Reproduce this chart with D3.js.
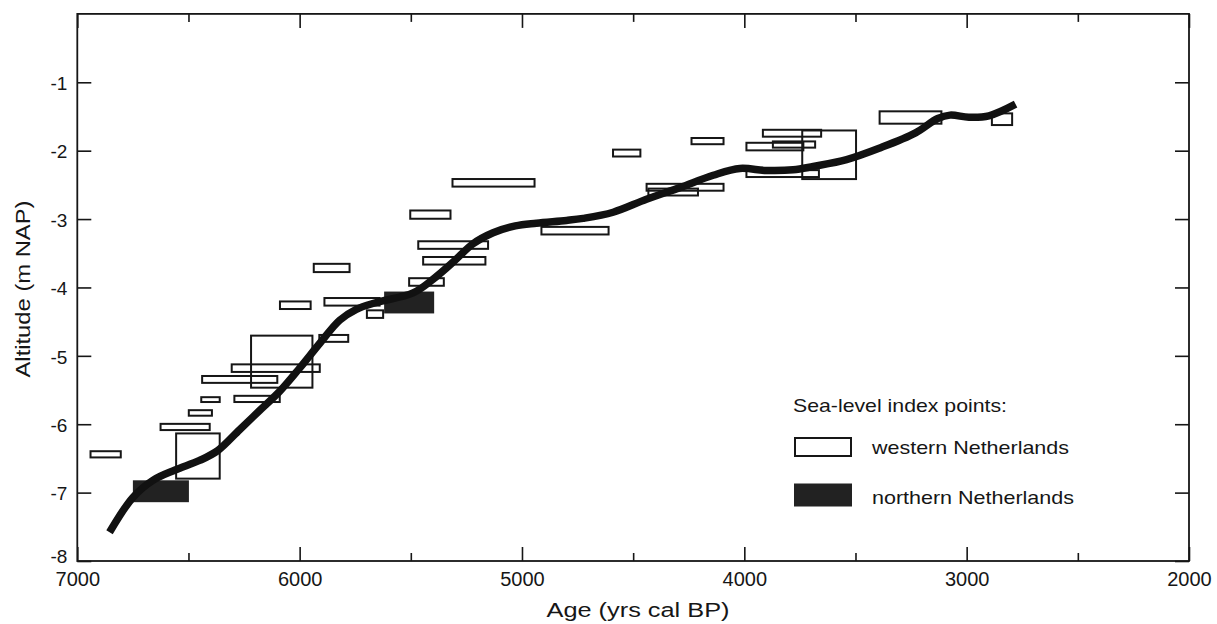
<!DOCTYPE html>
<html>
<head>
<meta charset="utf-8">
<script src="https://cdn.jsdelivr.net/npm/d3@7/dist/d3.min.js"></script>
<style>
  html, body { margin: 0; padding: 0; background: #fff; }
  svg { display: block; font-family: "Liberation Sans", Arial, Helvetica, sans-serif; }
</style>
</head>
<body>
<svg id="chart" width="1217" height="624"></svg>
<script>
// ---- Data ----
// Western Netherlands sea-level index points (age range in yrs cal BP, altitude range in m NAP)
const westAgeOld   = [6945, 6560, 6630, 6503, 6447, 6298, 6443, 6310, 6223, 5916, 6093, 5941, 5893, 5702, 5512, 5449, 5471, 5317, 5507, 4917, 4595, 4444, 4436, 4242, 3995, 3921, 3876, 3995, 3744, 3396, 2891];
const westAgeYoung = [6800, 6355, 6400, 6390, 6355, 6085, 6096, 5905, 5938, 5777, 5946, 5771, 5636, 5620, 5347, 5160, 5148, 4939, 5317, 4606, 4463, 4089, 4204, 4089, 3730, 3650, 3677, 3660, 3493, 3109, 2791];
const westAltTop   = [-6.38, -6.12, -5.98, -5.78, -5.59, -5.57, -5.28, -5.11, -4.69, -4.68, -4.19, -3.64, -4.14, -4.32, -3.85, -3.54, -3.31, -2.40, -2.86, -3.10, -1.97, -2.47, -2.54, -1.80, -1.87, -1.68, -1.85, -2.27, -1.69, -1.41, -1.44];
const westAltBot   = [-6.50, -6.81, -6.10, -5.89, -5.69, -5.69, -5.41, -5.25, -5.48, -4.81, -4.33, -3.79, -4.28, -4.46, -3.99, -3.68, -3.45, -2.54, -3.01, -3.24, -2.10, -2.60, -2.67, -1.92, -2.01, -1.81, -1.97, -2.40, -2.43, -1.62, -1.64];

// Northern Netherlands sea-level index points
const northAgeOld   = [6750, 5620];
const northAgeYoung = [6498, 5395];
const northAltTop   = [-6.82, -4.06];
const northAltBot   = [-7.14, -4.38];

// Sea-level curve
const curveAge = [6855, 6750, 6660, 6560, 6450, 6370, 6270, 6180, 6090, 6000, 5910, 5820, 5745, 5655, 5490, 5400, 5310, 5220, 5130, 5030, 4935, 4800, 4725, 4590, 4440, 4290, 4140, 4020, 3900, 3780, 3690, 3540, 3390, 3230, 3130, 3075, 2990, 2900, 2780];
const curveAlt = [-7.58, -7.07, -6.82, -6.67, -6.53, -6.39, -6.08, -5.80, -5.52, -5.18, -4.82, -4.48, -4.32, -4.22, -4.08, -3.88, -3.63, -3.36, -3.20, -3.10, -3.06, -3.02, -2.99, -2.90, -2.71, -2.54, -2.36, -2.26, -2.29, -2.28, -2.23, -2.13, -1.96, -1.74, -1.53, -1.48, -1.51, -1.49, -1.32];

// Axis ticks
const xMajorTicks = [7000, 6000, 5000, 4000, 3000, 2000];
const xMinorTicks = [6500, 5500, 4500, 3500, 2500];
const yTicks = [-1, -2, -3, -4, -5, -6, -7, -8];

const xTitle = "Age (yrs cal BP)";
const yTitle = "Altitude (m NAP)";
const legendTitle = "Sea-level index points:";
const legendLabels = ["western Netherlands", "northern Netherlands"];

// ---- Layout ----
const svg = d3.select("#chart");
const pL = 77.3, pR = 1189, pT = 13.9, pB = 561;
const ink = "#161616";

const x = d3.scaleLinear().domain([7000, 2000]).range([pL, pR]);
const y = d3.scaleLinear().domain([-8, 0]).range([pB, pT]);

svg.append("rect").attr("width", 1217).attr("height", 624).attr("fill", "#fff");

const west = westAgeOld.map((d, i) => ({a0: d, a1: westAgeYoung[i], t: westAltTop[i], b: westAltBot[i]}));
const north = northAgeOld.map((d, i) => ({a0: d, a1: northAgeYoung[i], t: northAltTop[i], b: northAltBot[i]}));

// Boxes: western (open)
svg.append("g").selectAll("rect").data(west).join("rect")
  .attr("x", d => x(d.a0) + 1)
  .attr("y", d => y(d.t) + 1)
  .attr("width", d => x(d.a1) - x(d.a0) - 2)
  .attr("height", d => y(d.b) - y(d.t) - 2)
  .attr("fill", "none")
  .attr("stroke", ink)
  .attr("stroke-width", 2);

// Boxes: northern (filled)
svg.append("g").selectAll("rect").data(north).join("rect")
  .attr("x", d => x(d.a0))
  .attr("y", d => y(d.t))
  .attr("width", d => x(d.a1) - x(d.a0))
  .attr("height", d => y(d.b) - y(d.t))
  .attr("fill", "#222")
  .attr("stroke", "none");

// Curve
const curvePts = curveAge.map((d, i) => [d, curveAlt[i]]);
svg.append("path")
  .datum(curvePts)
  .attr("fill", "none")
  .attr("stroke", "#111")
  .attr("stroke-width", 7.5)
  .attr("stroke-linejoin", "round")
  .attr("d", d3.line().x(d => x(d[0])).y(d => y(d[1])).curve(d3.curveCatmullRom.alpha(0.5)));

// Axes
function styleAxis(g) {
  g.select(".domain").remove();
  g.selectAll(".tick line").attr("stroke", ink).attr("stroke-width", 1.6);
  g.selectAll(".tick text").attr("fill", ink);
}

svg.append("g").attr("transform", `translate(0,${pB})`)
  .call(d3.axisBottom(x).tickValues(xMajorTicks).tickSizeInner(-14).tickSizeOuter(0).tickPadding(11).tickFormat(d => String(d)))
  .call(styleAxis)
  .call(g => g.selectAll(".tick text").attr("font-size", 20).attr("font-family", "Liberation Sans, Arial, sans-serif"));

svg.append("g").attr("transform", `translate(0,${pB})`)
  .call(d3.axisBottom(x).tickValues(xMinorTicks).tickSizeInner(-8).tickSizeOuter(0).tickFormat(""))
  .call(styleAxis);

svg.append("g").attr("transform", `translate(0,${pT})`)
  .call(d3.axisTop(x).tickValues(xMajorTicks).tickSizeInner(-14).tickSizeOuter(0).tickFormat(""))
  .call(styleAxis);
svg.append("g").attr("transform", `translate(0,${pT})`)
  .call(d3.axisTop(x).tickValues(xMinorTicks).tickSizeInner(-8).tickSizeOuter(0).tickFormat(""))
  .call(styleAxis);

svg.append("g").attr("transform", `translate(${pL},0)`)
  .call(d3.axisLeft(y).tickValues(yTicks).tickSizeInner(-14).tickSizeOuter(0).tickPadding(10).tickFormat(d => String(d)))
  .call(styleAxis)
  .call(g => g.selectAll(".tick text").attr("font-size", 19).attr("font-family", "Liberation Sans, Arial, sans-serif")
    .attr("dy", d => d === -8 ? "0.1em" : "0.38em"));

svg.append("g").attr("transform", `translate(${pR},0)`)
  .call(d3.axisRight(y).tickValues(yTicks).tickSizeInner(-14).tickSizeOuter(0).tickFormat(""))
  .call(styleAxis);

// Frame
svg.append("rect")
  .attr("x", pL).attr("y", pT)
  .attr("width", pR - pL).attr("height", pB - pT)
  .attr("fill", "none").attr("stroke", ink).attr("stroke-width", 1.8);

// Axis titles
svg.append("text")
  .attr("x", 638).attr("y", 617)
  .attr("text-anchor", "middle")
  .attr("font-size", 20.5)
  .attr("fill", ink)
  .attr("textLength", 183).attr("lengthAdjust", "spacingAndGlyphs")
  .text(xTitle);

svg.append("text")
  .attr("transform", "translate(30,289) rotate(-90)")
  .attr("text-anchor", "middle")
  .attr("font-size", 20.5)
  .attr("fill", ink)
  .attr("textLength", 177).attr("lengthAdjust", "spacingAndGlyphs")
  .text(yTitle);

// Legend
const lg = svg.append("g");
lg.append("text").attr("x", 793).attr("y", 411.5).attr("font-size", 18.5).attr("fill", ink)
  .attr("textLength", 214).attr("lengthAdjust", "spacingAndGlyphs").text(legendTitle);
lg.append("rect").attr("x", 795).attr("y", 438).attr("width", 56).attr("height", 18)
  .attr("fill", "none").attr("stroke", ink).attr("stroke-width", 2);
lg.append("text").attr("x", 872).attr("y", 454).attr("font-size", 18.5).attr("fill", ink)
  .attr("textLength", 197).attr("lengthAdjust", "spacingAndGlyphs").text(legendLabels[0]);
lg.append("rect").attr("x", 794).attr("y", 483.5).attr("width", 58).attr("height", 23)
  .attr("fill", "#222");
lg.append("text").attr("x", 872).attr("y", 504).attr("font-size", 18.5).attr("fill", ink)
  .attr("textLength", 202).attr("lengthAdjust", "spacingAndGlyphs").text(legendLabels[1]);
</script>
</body>
</html>
